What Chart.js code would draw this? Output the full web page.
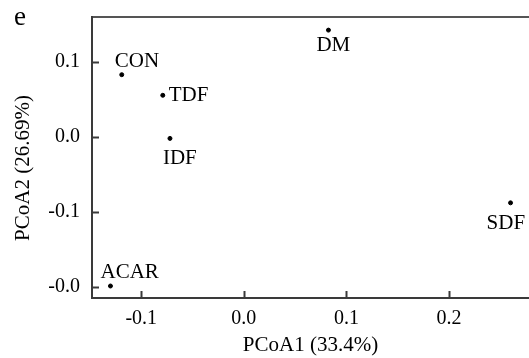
<!DOCTYPE html>
<html>
<head>
<meta charset="utf-8">
<script src="https://cdn.jsdelivr.net/npm/chart.js@4/dist/chart.umd.min.js"></script>
<style>
html,body{margin:0;padding:0;background:#fff;}
#wrap{width:529px;height:358px;position:relative;}
</style>
</head>
<body>
<div id="wrap"><canvas id="c" width="529" height="358"></canvas></div>
<script>
// ---- data ----
const sampleNames = ['CON', 'TDF', 'IDF', 'DM', 'SDF', 'ACAR'];
const pcoa1 = [-0.119, -0.079, -0.072, 0.0825, 0.260, -0.130];
const pcoa2 = [0.083, 0.0555, -0.002, 0.1425, -0.088, -0.199];
const xTickValues = [-0.1, 0.0, 0.1, 0.2];
const xTickLabels = ['-0.1', '0.0', '0.1', '0.2'];
const yTickValues = [-0.2, -0.1, 0.0, 0.1];
const yTickLabels = ['-0.0', '-0.1', '0.0', '0.1'];
const xTitle = 'PCoA1 (33.4%)';
const yTitle = 'PCoA2 (26.69%)';
const panelLetter = 'e';

// ---- styling ----
const FONT = '"Liberation Serif", "Times New Roman", serif';
const AXIS_COLOR = '#3a3a3a';
// label placement relative to point (dx to text left edge, dy to baseline)
const labelOffsets = {
  CON: [-7, -8], TDF: [6, 6], IDF: [-7, 26], DM: [-12, 21], SDF: [-24, 26], ACAR: [-10, -8]
};

const points = sampleNames.map((n, i) => ({x: pcoa1[i], y: pcoa2[i], name: n}));

const decor = {
  id: 'decor',
  afterDraw(chart) {
    const ctx = chart.ctx;
    const xs = chart.scales.x, ys = chart.scales.y;
    const area = chart.chartArea;
    ctx.save();
    // inward tick marks
    ctx.strokeStyle = AXIS_COLOR;
    ctx.lineWidth = 2;
    xTickValues.forEach(v => {
      const px = Math.round(xs.getPixelForValue(v)) + 0.5;
      ctx.beginPath(); ctx.moveTo(px, area.bottom); ctx.lineTo(px, area.bottom - 7); ctx.stroke();
    });
    yTickValues.forEach(v => {
      const py = Math.round(ys.getPixelForValue(v)) + 0.5;
      ctx.beginPath(); ctx.moveTo(area.left, py); ctx.lineTo(area.left + 7, py); ctx.stroke();
    });
    // point labels
    ctx.fillStyle = '#000';
    ctx.font = '21px ' + FONT;
    ctx.textAlign = 'left';
    ctx.textBaseline = 'alphabetic';
    const meta = chart.getDatasetMeta(0);
    meta.data.forEach((el, i) => {
      const off = labelOffsets[sampleNames[i]];
      ctx.fillText(sampleNames[i], el.x + off[0], el.y + off[1]);
    });
    // panel letter
    ctx.font = '27px ' + FONT;
    ctx.fillText(panelLetter, 14, 25);
    // y axis title
    ctx.font = '21px ' + FONT;
    ctx.translate(29, 168);
    ctx.rotate(-Math.PI / 2);
    ctx.textAlign = 'center';
    ctx.fillText(yTitle, 0, 0);
    ctx.restore();
  }
};

const noPad = s => { s.paddingLeft = 0; s.paddingRight = 0; s.paddingTop = 0; s.paddingBottom = 0; };

new Chart(document.getElementById('c'), {
  type: 'scatter',
  data: {
    datasets: [{
      data: points,
      backgroundColor: '#000',
      borderColor: '#000',
      pointRadius: 2,
      pointHoverRadius: 2
    }]
  },
  options: {
    responsive: false,
    animation: false,
    events: [],
    layout: {autoPadding: false, padding: {top: 17, right: 0, left: 0, bottom: 0}},
    plugins: {legend: {display: false}, tooltip: {enabled: false}},
    scales: {
      x: {
        type: 'linear',
        position: 'bottom',
        min: -0.148,
        max: 0.278,
        afterBuildTicks: s => { s.ticks = xTickValues.map(v => ({value: v})); },
        afterFit: s => { s.height = 60; noPad(s); },
        grid: {display: false, drawTicks: false},
        border: {display: true, color: AXIS_COLOR, width: 2},
        ticks: {
          color: '#000',
          font: {family: FONT, size: 20},
          padding: 9,
          maxRotation: 0,
          autoSkip: false,
          callback: (v) => { const i = xTickValues.findIndex(t => Math.abs(t - v) < 1e-9); return i >= 0 ? xTickLabels[i] : ''; }
        },
        title: {display: true, text: xTitle, color: '#000', font: {family: FONT, size: 21}, padding: {top: 0, bottom: 0}}
      },
      x2: {
        type: 'linear',
        position: 'top',
        min: -0.148,
        max: 0.278,
        afterFit: s => { s.height = 0; noPad(s); },
        grid: {display: false, drawTicks: false},
        border: {display: true, color: '#555', width: 2},
        ticks: {display: false}
      },
      y: {
        type: 'linear',
        position: 'left',
        min: -0.215,
        max: 0.16,
        afterBuildTicks: s => { s.ticks = yTickValues.map(v => ({value: v})); },
        afterFit: s => { s.width = 92; noPad(s); },
        grid: {display: false, drawTicks: false},
        border: {display: true, color: AXIS_COLOR, width: 2},
        ticks: {
          color: '#000',
          font: {family: FONT, size: 20},
          padding: 12,
          autoSkip: false,
          callback: (v) => { const i = yTickValues.findIndex(t => Math.abs(t - v) < 1e-9); return i >= 0 ? yTickLabels[i] : ''; }
        }
      }
    }
  },
  plugins: [decor]
});
</script>
</body>
</html>
